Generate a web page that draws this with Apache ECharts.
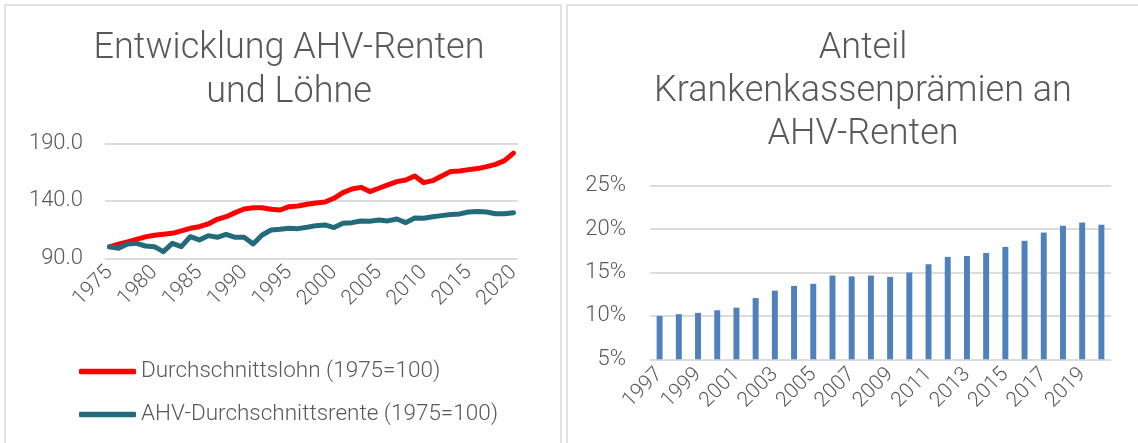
<!DOCTYPE html>
<html>
<head>
<meta charset="utf-8">
<script src="https://cdn.jsdelivr.net/npm/echarts@6/dist/echarts.min.js"></script>
<style>
  html, body { margin: 0; padding: 0; background: #fff; }
  #main { width: 1138px; height: 443px; }
</style>
</head>
<body>
<div id="main"></div>
<script>
// Entwicklung AHV-Renten und Löhne (1975=100)
var years = ['1975','1976','1977','1978','1979','1980','1981','1982','1983','1984',
             '1985','1986','1987','1988','1989','1990','1991','1992','1993','1994',
             '1995','1996','1997','1998','1999','2000','2001','2002','2003','2004',
             '2005','2006','2007','2008','2009','2010','2011','2012','2013','2014',
             '2015','2016','2017','2018','2019','2020'];
var lohn = [100, 102.2, 104.2, 106.5, 108.6, 110, 110.9, 111.7, 113.8, 116.1,
            117.5, 119.9, 123.9, 126.2, 129.7, 132.9, 134, 134, 132.6, 132,
            134.9, 135.5, 137, 138.1, 139, 142.2, 147.1, 150.3, 151.7, 148,
            150.9, 153.8, 156.7, 158.1, 161.6, 155.8, 157.5, 161.6, 165.4, 165.9,
            167.1, 168, 169.7, 171.7, 174.9, 181.5];
var rente = [100, 98.7, 102.5, 103, 100.7, 100.1, 95.8, 103, 100.1, 108.8,
             106, 109.7, 108.3, 110.9, 108.3, 108.3, 102.5, 110.3, 114.6, 115.2,
             116.1, 115.8, 117, 118.4, 119, 116.7, 120.4, 121, 122.5, 122.2,
             123.3, 122.5, 124.2, 121, 125.1, 124.8, 126.2, 127.1, 128, 128.6,
             130.3, 130.6, 130.3, 128.8, 128.8, 129.7];

// Anteil Krankenkassenprämien an AHV-Renten (in %)
var kkYears = ['1997','1998','1999','2000','2001','2002','2003','2004','2005','2006',
               '2007','2008','2009','2010','2011','2012','2013','2014','2015','2016',
               '2017','2018','2019','2020'];
var kkAnteil = [10.0, 10.2, 10.35, 10.65, 10.95, 12.05, 12.9, 13.45, 13.7, 14.65,
                14.55, 14.65, 14.5, 15.0, 15.95, 16.8, 16.9, 17.25, 17.95, 18.65,
                19.6, 20.4, 20.75, 20.5];

var grau = '#595959';
var fontFam = 'Roboto, "Open Sans", "Liberation Sans", sans-serif';

var chart = echarts.init(document.getElementById('main'));

chart.setOption({
    backgroundColor: '#fff',
    textStyle: { fontFamily: fontFam, color: grau },
    graphic: [
        { type: 'rect', shape: { x: 5, y: 5, width: 556, height: 460 },
          style: { fill: 'none', stroke: '#d9d9d9', lineWidth: 1.5 } },
        { type: 'rect', shape: { x: 567, y: 5, width: 600, height: 460 },
          style: { fill: 'none', stroke: '#d9d9d9', lineWidth: 1.5 } }
    ],
    title: [{
        text: 'Entwicklung AHV-Renten\nund Löhne',
        left: 284, top: 22, textAlign: 'center',
        textStyle: { fontSize: 36, fontWeight: 300, lineHeight: 44, color: grau, fontFamily: fontFam }
    }, {
        text: 'Anteil\nKrankenkassenprämien an\nAHV-Renten',
        left: 858, top: 22, textAlign: 'center',
        textStyle: { fontSize: 36, fontWeight: 300, lineHeight: 43, color: grau, fontFamily: fontFam }
    }],
    legend: {
        orient: 'vertical',
        left: 74, top: 355,
        itemWidth: 57, itemHeight: 5.5,
        itemGap: 20,
        icon: 'roundRect',
        data: ['Durchschnittslohn (1975=100)', 'AHV-Durchschnittsrente (1975=100)'],
        textStyle: { fontSize: 22.5, lineHeight: 22, color: grau, fontWeight: 300, fontFamily: fontFam }
    },
    grid: [
        { left: 105, right: 620, top: 143.3, bottom: 184.7 },
        { left: 650, right: 27, top: 185.7, bottom: 83.7 }
    ],
    xAxis: [{
        type: 'category', gridIndex: 0, data: years, boundaryGap: true,
        axisLine: { show: false }, axisTick: { show: false },
        axisLabel: { interval: 4, rotate: 45, margin: 11, fontSize: 21, color: grau, fontWeight: 300 }
    }, {
        type: 'category', gridIndex: 1, data: kkYears,
        axisLine: { show: false }, axisTick: { show: false },
        axisLabel: { interval: 1, rotate: 45, margin: 12, fontSize: 21, color: grau, fontWeight: 300 }
    }],
    yAxis: [{
        type: 'value', gridIndex: 0, min: 90, max: 190, interval: 50,
        axisLine: { show: false }, axisTick: { show: false },
        splitLine: { lineStyle: { color: '#dcdcdc', width: 2 } },
        axisLabel: { margin: 22, fontSize: 22, color: grau, fontWeight: 300,
            formatter: function (v) { return v.toFixed(1); } }
    }, {
        type: 'value', gridIndex: 1, min: 5, max: 25, interval: 5,
        axisLine: { show: false }, axisTick: { show: false },
        splitLine: { lineStyle: { color: '#dcdcdc', width: 2 } },
        axisLabel: { margin: 24, fontSize: 22, color: grau, fontWeight: 300, formatter: '{value}%' }
    }],
    series: [{
        name: 'Durchschnittslohn (1975=100)',
        type: 'line', xAxisIndex: 0, yAxisIndex: 0,
        data: lohn, showSymbol: false,
        itemStyle: { color: '#ff0000' },
        lineStyle: { color: '#ff0000', width: 5, cap: 'round', join: 'round' }
    }, {
        name: 'AHV-Durchschnittsrente (1975=100)',
        type: 'line', xAxisIndex: 0, yAxisIndex: 0,
        data: rente, showSymbol: false,
        itemStyle: { color: '#236b7b' },
        lineStyle: { color: '#236b7b', width: 5, cap: 'round', join: 'round' }
    }, {
        name: 'Anteil',
        type: 'bar', xAxisIndex: 1, yAxisIndex: 1,
        data: kkAnteil, barWidth: '31%',
        itemStyle: { color: '#4f81bd' }
    }]
});
</script>
</body>
</html>
